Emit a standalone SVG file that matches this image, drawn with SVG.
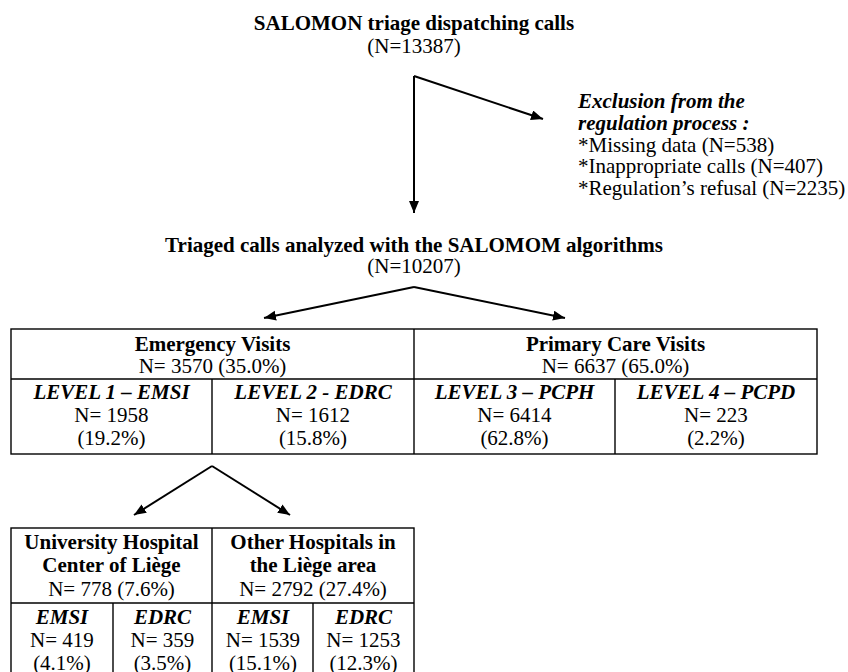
<svg xmlns="http://www.w3.org/2000/svg" width="848" height="672" viewBox="0 0 848 672">
<defs>
<marker id="ah" markerUnits="userSpaceOnUse" markerWidth="13" markerHeight="11" refX="12" refY="5" orient="auto">
<path d="M0,0 L12,5 L0,10 z" fill="#000"/>
</marker>
<style>
text{font-family:"Liberation Serif","Times New Roman",serif;font-size:21px;fill:#000}
.c{text-anchor:middle}
.b{font-weight:bold}
.bi{font-weight:bold;font-style:italic}
.cell{fill:#fff;stroke:#000;stroke-width:1.4}
.conn{stroke:#000;stroke-width:2;fill:none;marker-end:url(#ah)}
</style>
</defs>
<rect width="848" height="672" fill="#fff"/>

<g id="node-start">
<text class="c b" x="414" y="30">SALOMON triage dispatching calls</text>
<text class="c" x="414" y="53">(N=13387)</text>
</g>

<g id="node-exclusion">
<text class="bi" x="578" y="108">Exclusion from the</text>
<text class="bi" x="578" y="130">regulation process :</text>
<text x="578" y="152">*Missing data (N=538)</text>
<text x="578" y="173">*Inappropriate calls (N=407)</text>
<text x="578" y="195">*Regulation’s refusal (N=2235)</text>
</g>

<g id="node-triaged">
<text class="c b" x="414" y="252">Triaged calls analyzed with the SALOMOM algorithms</text>
<text class="c" x="414" y="273">(N=10207)</text>
</g>

<g id="node-table1">
<rect class="cell" x="11" y="329" width="806" height="125"/>
<line class="cell" x1="11" y1="379" x2="817" y2="379"/>
<line class="cell" x1="414" y1="329" x2="414" y2="454"/>
<line class="cell" x1="212" y1="379" x2="212" y2="454"/>
<line class="cell" x1="615" y1="379" x2="615" y2="454"/>
<text class="c b" x="212.5" y="351">Emergency Visits</text>
<text class="c" x="212.5" y="373">N= 3570 (35.0%)</text>
<text class="c b" x="615.5" y="351">Primary Care Visits</text>
<text class="c" x="615.5" y="373">N= 6637 (65.0%)</text>
<text class="c bi" x="111.5" y="399">LEVEL 1 – EMSI</text>
<text class="c" x="111.5" y="422">N= 1958</text>
<text class="c" x="111.5" y="445">(19.2%)</text>
<text class="c bi" x="313" y="399">LEVEL 2 - EDRC</text>
<text class="c" x="313" y="422">N= 1612</text>
<text class="c" x="313" y="445">(15.8%)</text>
<text class="c bi" x="514.5" y="399">LEVEL 3 – PCPH</text>
<text class="c" x="514.5" y="422">N= 6414</text>
<text class="c" x="514.5" y="445">(62.8%)</text>
<text class="c bi" x="716" y="399">LEVEL 4 – PCPD</text>
<text class="c" x="716" y="422">N= 223</text>
<text class="c" x="716" y="445">(2.2%)</text>
</g>

<g id="node-table2">
<rect class="cell" x="11" y="528" width="403" height="160"/>
<line class="cell" x1="11" y1="603" x2="414" y2="603"/>
<line class="cell" x1="212" y1="528" x2="212" y2="688"/>
<line class="cell" x1="113" y1="603" x2="113" y2="688"/>
<line class="cell" x1="313" y1="603" x2="313" y2="688"/>
<text class="c b" x="111.5" y="549">University Hospital</text>
<text class="c b" x="111.5" y="572">Center of Liège</text>
<text class="c" x="111.5" y="596">N= 778 (7.6%)</text>
<text class="c b" x="313" y="549">Other Hospitals in</text>
<text class="c b" x="313" y="572">the Liège area</text>
<text class="c" x="313" y="596">N= 2792 (27.4%)</text>
<text class="c bi" x="62" y="624">EMSI</text>
<text class="c" x="62" y="647">N= 419</text>
<text class="c" x="62" y="670">(4.1%)</text>
<text class="c bi" x="162.5" y="624">EDRC</text>
<text class="c" x="162.5" y="647">N= 359</text>
<text class="c" x="162.5" y="670">(3.5%)</text>
<text class="c bi" x="263" y="624">EMSI</text>
<text class="c" x="263" y="647">N= 1539</text>
<text class="c" x="263" y="670">(15.1%)</text>
<text class="c bi" x="363.5" y="624">EDRC</text>
<text class="c" x="363.5" y="647">N= 1253</text>
<text class="c" x="363.5" y="670">(12.3%)</text>
</g>

<g id="connectors">
<line class="conn" x1="414" y1="76" x2="414" y2="213"/>
<line class="conn" x1="414" y1="76" x2="543" y2="119"/>
<line class="conn" x1="414" y1="287" x2="264" y2="318"/>
<line class="conn" x1="414" y1="287" x2="565" y2="318"/>
<line class="conn" x1="212" y1="466" x2="134" y2="515"/>
<line class="conn" x1="212" y1="466" x2="290" y2="515"/>
</g>
</svg>
